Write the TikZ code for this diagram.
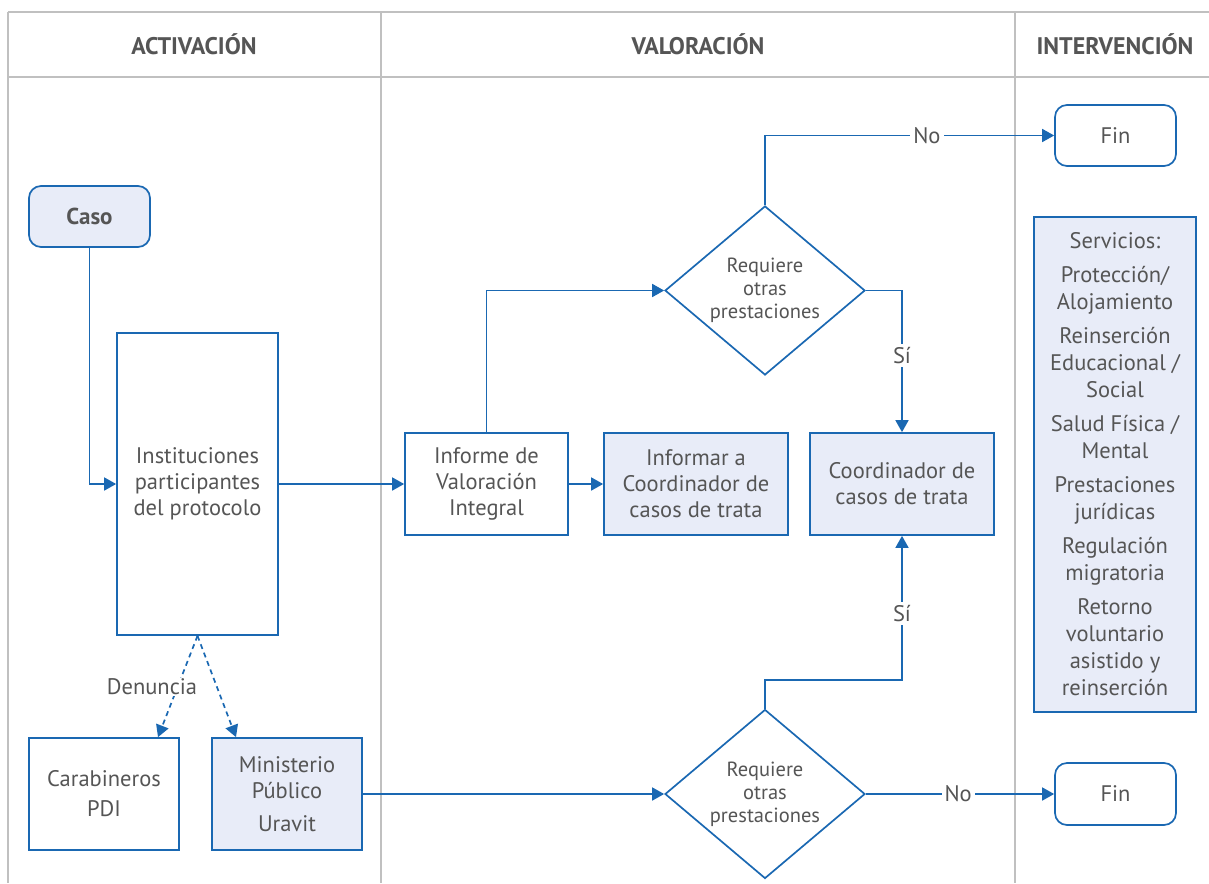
\documentclass[tikz,border=0pt]{standalone}
\usepackage{fontspec}
\setmainfont{PT Sans}
\usetikzlibrary{arrows.meta,shapes.geometric}
\definecolor{lineblue}{RGB}{26,104,178}
\definecolor{boxfill}{RGB}{232,236,248}
\definecolor{txtgray}{RGB}{85,85,85}
\definecolor{framegray}{RGB}{192,192,192}
\begin{document}
\begin{tikzpicture}[x=1pt,y=-1pt,
  every node/.style={text=txtgray, font=\fontsize{22.5}{26}\selectfont},
  frame/.style={draw=framegray, line width=1.8pt},
  hdr/.style={font=\bfseries\fontsize{24}{26}\selectfont},
  box/.style={draw=lineblue, line width=1.7pt, rectangle, align=center, inner sep=0pt},
  filled/.style={fill=boxfill},
  rbox/.style={box, rounded corners=12pt},
  dec/.style={draw=lineblue, line width=1.7pt, diamond, shape aspect=1.18, inner sep=0pt,
    minimum width=200pt, minimum height=169pt, align=center,
    font=\fontsize{20.5}{23}\selectfont},
  conn/.style={draw=lineblue, line width=1.7pt, -{Triangle[length=12pt,width=13pt]}},
  dconn/.style={conn, dashed, dash pattern=on 5pt off 4pt},
  lbl/.style={fill=white, inner sep=3pt}
]
\useasboundingbox (0,0) rectangle (1209,883);
% frame
\draw[frame] (8,12) -- (1209,12);
\draw[frame, line width=2.8pt] (8,77) -- (1209,77);
\draw[frame] (8,12) -- (8,883);
\draw[frame] (381,12) -- (381,883);
\draw[frame] (1015,12) -- (1015,883);
\node[hdr] (h1) at (194,44) {ACTIVACIÓN};
\node[hdr] (h2) at (698,44) {VALORACIÓN};
\node[hdr] (h3) at (1115,44) {INTERVENCIÓN};

% nodes
\node[rbox, filled, minimum width=121pt, minimum height=61pt, font=\bfseries\fontsize{23}{26}\selectfont] (caso) at (89.5,216.5) {Caso};
\node[box, minimum width=161pt, minimum height=302pt] (inst) at (197.5,484) {Instituciones\\participantes\\del protocolo};
\node[box, minimum width=150pt, minimum height=112pt] (carab) at (104,794) {Carabineros\\[4pt]PDI};
\node[box, filled, minimum width=150pt, minimum height=112pt] (mp) at (287,794) {Ministerio\\Público\\[7pt]Uravit};
\node[box, minimum width=163pt, minimum height=102pt] (inf) at (486.5,484) {Informe de\\Valoración\\Integral};
\node[box, filled, minimum width=184pt, minimum height=102pt] (infa) at (696,484) {Informar a\\Coordinador de\\casos de trata};
\node[box, filled, minimum width=184pt, minimum height=102pt] (coord) at (902,484) {Coordinador de\\casos de trata};
\node[dec] (d1) at (765,290.5) {Requiere\\otras\\prestaciones};
\node[dec] (d2) at (765,794) {Requiere\\otras\\prestaciones};
\node[rbox, minimum width=121pt, minimum height=61pt] (fin1) at (1115.5,135.5) {Fin};
\node[rbox, minimum width=121pt, minimum height=62pt] (fin2) at (1115.5,794) {Fin};
\node[box, filled, minimum width=162pt, minimum height=495pt, font=\fontsize{22.5}{27}\selectfont] (serv) at (1115,464.5)
  {Servicios:\\[7pt]Protección/\\Alojamiento\\[7pt]Reinserción\\Educacional /\\Social\\[7pt]Salud Física /\\Mental\\[7pt]Prestaciones\\jurídicas\\[7pt]Regulación\\migratoria\\[7pt]Retorno\\voluntario\\asistido y\\reinserción};

% connectors
\draw[conn] (caso.south) |- (inst.west);
\draw[conn] (inst.east) -- (inf.west);
\draw[conn] (inf.east) -- (infa.west);
\draw[conn] (inf.north) |- (d1.west);
\draw[conn] (d1.north) |- node[lbl, pos=0.78] (no1) {No} (fin1.west);
\draw[conn] (d1.east) -| node[lbl, pos=0.73] (si1) {Sí} (coord.north);
\draw[conn] (mp.east) -- (d2.west);
\draw[conn] (d2.north) -- ++(0,-29) -| node[lbl, pos=0.73] (si2) {Sí} (coord.south);
\draw[conn] (d2.east) -- node[lbl, pos=0.49] (no2) {No} (fin2.west);
\draw[dconn] (inst.south) -- ([xshift=54pt]carab.north);
\draw[dconn] (inst.south) -- ([xshift=-51pt]mp.north);
\node[lbl, inner sep=1pt] (den) at (152,687) {Denuncia};
\end{tikzpicture}
\end{document}
